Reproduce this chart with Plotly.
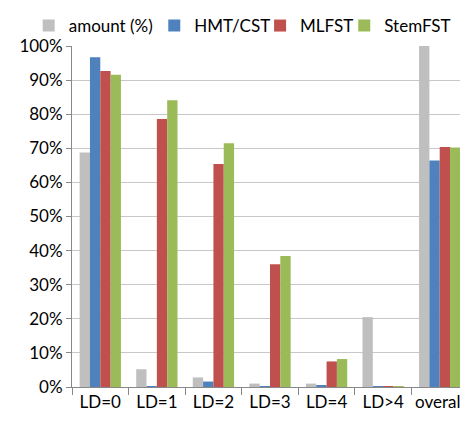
import plotly.graph_objects as go

# categories and series (fractions of 1)
categories = ["LD=0", "LD=1", "LD=2", "LD=3", "LD=4", "LD>4", "overall"]
amount = [0.688, 0.052, 0.028, 0.010, 0.010, 0.205, 1.000]
hmt_cst = [0.967, 0.001, 0.016, 0.001, 0.004, 0.001, 0.664]
mlfst = [0.927, 0.786, 0.654, 0.360, 0.075, 0.001, 0.704]
stemfst = [0.916, 0.841, 0.715, 0.384, 0.082, 0.001, 0.702]

series = [
    ("amount (%)", amount, "#BFBFBF"),
    ("HMT/CST", hmt_cst, "#4F81BD"),
    ("MLFST", mlfst, "#C0504D"),
    ("StemFST", stemfst, "#9BBB59"),
]
# one legend per series so the entries sit in one row like the original
legend_ids = ["legend", "legend2", "legend3", "legend4"]
legend_x = [0.045, 0.318, 0.548, 0.731]

fig = go.Figure()
for (name, vals, col), lg in zip(series, legend_ids):
    fig.add_trace(go.Bar(x=categories, y=vals, name=name, marker_color=col,
                         marker_line_width=0, legend=lg))

legend_style = dict(orientation="h", xref="container", xanchor="left",
                    yref="container", y=1.0, yanchor="top",
                    font=dict(size=17), itemwidth=30, borderwidth=0,
                    bgcolor="rgba(0,0,0,0)")

# page body has an 8px margin, so the figure is 8px smaller on each side
fig.update_layout(
    width=460, height=417,
    barmode="group", bargap=0.27, bargroupgap=0,
    plot_bgcolor="white", paper_bgcolor="white",
    font=dict(family="Lato, Open Sans, sans-serif", size=17, color="#000000"),
    margin=dict(l=64, r=0, t=38, b=38, autoexpand=False),
    showlegend=True,
)
for lg, lx in zip(legend_ids, legend_x):
    fig.update_layout({lg: dict(legend_style, x=lx)})

fig.update_xaxes(
    showline=True, linecolor="#888888", linewidth=1,
    ticks="outside", ticklen=7, tickcolor="#888888", tickson="boundaries",
    tickfont=dict(size=17), tickangle=0,
)
fig.update_yaxes(
    range=[0, 1], dtick=0.1, tickformat=".0%",
    showline=True, linecolor="#888888", linewidth=1,
    ticks="outside", ticklen=5, tickcolor="#888888",
    showgrid=True, gridcolor="#C8C8C8", gridwidth=1,
    tickfont=dict(size=17), zeroline=False,
)

fig.write_html("out.html")
